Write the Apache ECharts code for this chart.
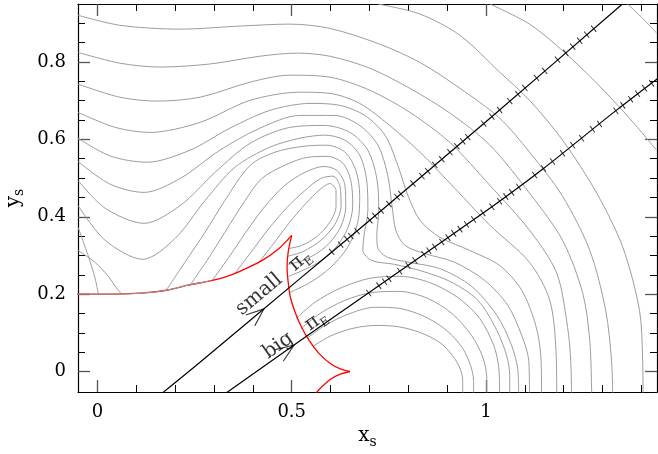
<!DOCTYPE html>
<html>
<head>
<meta charset="utf-8">
<script src="https://cdn.jsdelivr.net/npm/echarts@6/dist/echarts.min.js"></script>
<style>
html, body { margin: 0; padding: 0; background: #fff; }
#chart { width: 658px; height: 454px; }
</style>
</head>
<body>
<div id="chart"></div>
<script>
// axis ticks
let xMajor = [0, 0.5, 1];
let xMinor = [0.1, 0.2, 0.3, 0.4, 0.6, 0.7, 0.8, 0.9, 1.1, 1.2, 1.3, 1.4];
let yMajor = [0, 0.2, 0.4, 0.6, 0.8];
let yMinor = [0.05, 0.1, 0.15, 0.25, 0.3, 0.35, 0.45, 0.5, 0.55, 0.65, 0.7, 0.75, 0.85, 0.9];

// contour lines (gray)
let t1 = [[1.364,0.950],[1.403,0.913],[1.439,0.875]];
let t2 = [[1.010,0.950],[1.112,0.898],[1.202,0.825],[1.285,0.745],[1.369,0.655],[1.439,0.572]];
let t3 = [[0.722,0.950],[0.830,0.924],[0.933,0.869],[1.035,0.774],[1.112,0.701],[1.197,0.598],[1.285,0.461],[1.352,0.321],[1.395,0.158],[1.403,0.030],[1.404,-0.062]];
let l1 = [[-0.050,0.921],[0.058,0.895],[0.213,0.885],[0.367,0.893],[0.495,0.898],[0.598,0.887],[0.727,0.846],[0.830,0.799],[0.933,0.732],[1.035,0.655],[1.112,0.567],[1.197,0.453],[1.267,0.313],[1.308,0.158],[1.323,0.028],[1.326,-0.062]];
let l2 = [[-0.050,0.825],[0.058,0.797],[0.161,0.787],[0.290,0.795],[0.418,0.815],[0.513,0.823],[0.598,0.815],[0.701,0.784],[0.804,0.732],[0.907,0.668],[1.010,0.585],[1.112,0.461],[1.197,0.339],[1.249,0.202],[1.267,0.080],[1.272,-0.062]];
let l3 = [[-0.050,0.743],[0.058,0.709],[0.153,0.699],[0.264,0.709],[0.393,0.748],[0.495,0.766],[0.598,0.761],[0.701,0.727],[0.804,0.670],[0.907,0.592],[1.010,0.481],[1.112,0.365],[1.182,0.254],[1.210,0.114],[1.218,0.028],[1.220,-0.062]];
let l4 = [[-0.050,0.670],[0.046,0.631],[0.135,0.618],[0.264,0.644],[0.393,0.701],[0.521,0.722],[0.598,0.719],[0.675,0.693],[0.752,0.636],[0.830,0.567],[0.920,0.473],[1.010,0.378],[1.112,0.282],[1.164,0.184],[1.180,0.054],[1.182,-0.062]];
let l5 = [[-0.050,0.603],[0.033,0.557],[0.128,0.541],[0.238,0.572],[0.341,0.629],[0.444,0.675],[0.547,0.693],[0.624,0.688],[0.688,0.662],[0.740,0.611],[0.773,0.533],[0.799,0.455],[0.830,0.391],[0.881,0.347],[0.958,0.313],[1.035,0.274],[1.092,0.210],[1.128,0.119],[1.141,0.041],[1.143,-0.062]];
let l6 = [[-0.050,0.543],[0.033,0.484],[0.120,0.463],[0.213,0.499],[0.315,0.572],[0.418,0.629],[0.521,0.662],[0.611,0.662],[0.675,0.636],[0.722,0.585],[0.747,0.507],[0.758,0.429],[0.768,0.365],[0.791,0.326],[0.842,0.305],[0.920,0.282],[0.997,0.235],[1.056,0.171],[1.092,0.093],[1.110,0.028],[1.112,-0.062]];
let l7 = [[-0.050,0.494],[0.020,0.422],[0.120,0.383],[0.213,0.429],[0.303,0.515],[0.393,0.590],[0.495,0.631],[0.585,0.636],[0.650,0.618],[0.696,0.572],[0.719,0.499],[0.724,0.417],[0.719,0.352],[0.722,0.318],[0.747,0.295],[0.804,0.282],[0.881,0.266],[0.963,0.220],[1.028,0.145],[1.066,0.067],[1.082,0.003],[1.084,-0.062]];
let l8 = [[-0.050,0.429],[0.020,0.339],[0.117,0.290],[0.200,0.344],[0.277,0.442],[0.354,0.528],[0.444,0.580],[0.521,0.603],[0.585,0.611],[0.637,0.598],[0.675,0.559],[0.693,0.494],[0.696,0.417],[0.686,0.352],[0.683,0.313],[0.706,0.287],[0.765,0.277],[0.830,0.261],[0.907,0.233],[0.979,0.184],[1.028,0.106],[1.053,0.041],[1.061,-0.010],[1.061,-0.062]];
let l9 = [[-0.050,0.373],[-0.024,0.300],[-0.006,0.241],[0.002,0.202]];
let l10 = [[-0.050,0.313],[-0.006,0.282],[0.028,0.246],[0.048,0.217],[0.061,0.202]];
let loop1 = [[0.177,0.210],[0.225,0.282],[0.277,0.360],[0.328,0.442],[0.393,0.533],[0.457,0.567],[0.529,0.582],[0.590,0.585],[0.637,0.567],[0.665,0.520],[0.675,0.455],[0.670,0.386],[0.644,0.321],[0.598,0.267],[0.547,0.230],[0.495,0.204]];
let loop2 = [[0.238,0.223],[0.282,0.287],[0.328,0.360],[0.380,0.442],[0.423,0.499],[0.482,0.533],[0.542,0.554],[0.593,0.556],[0.632,0.538],[0.652,0.494],[0.657,0.429],[0.644,0.370],[0.611,0.318],[0.560,0.277],[0.492,0.246]];
let loop3 = [[0.295,0.235],[0.336,0.292],[0.382,0.360],[0.431,0.427],[0.482,0.481],[0.534,0.515],[0.583,0.530],[0.616,0.520],[0.637,0.481],[0.639,0.424],[0.624,0.370],[0.588,0.323],[0.537,0.290],[0.490,0.277]];
let loop4 = [[0.354,0.254],[0.395,0.308],[0.439,0.367],[0.488,0.424],[0.534,0.468],[0.575,0.499],[0.606,0.505],[0.624,0.479],[0.627,0.429],[0.611,0.380],[0.575,0.339],[0.529,0.310],[0.490,0.298]];
let loop5 = [[0.413,0.279],[0.452,0.329],[0.495,0.386],[0.537,0.435],[0.573,0.471],[0.598,0.486],[0.614,0.468],[0.614,0.427],[0.598,0.386],[0.565,0.349],[0.526,0.326],[0.492,0.318]];
let lobe1 = [[0.511,0.137],[0.560,0.179],[0.624,0.215],[0.701,0.241],[0.778,0.246],[0.855,0.230],[0.928,0.191],[0.984,0.137],[1.020,0.067],[1.033,0.008],[1.035,-0.062]];
let lobe2 = [[0.524,0.111],[0.573,0.150],[0.637,0.184],[0.706,0.204],[0.778,0.207],[0.850,0.189],[0.912,0.150],[0.963,0.093],[0.992,0.036],[1.002,-0.018],[1.002,-0.062]];
let lobe3 = [[0.539,0.085],[0.585,0.119],[0.650,0.150],[0.714,0.166],[0.778,0.163],[0.842,0.142],[0.899,0.106],[0.940,0.060],[0.960,0.016],[0.968,-0.023],[0.968,-0.062]];
let lobe4 = [[0.555,0.065],[0.598,0.091],[0.655,0.111],[0.714,0.119],[0.773,0.116],[0.830,0.101],[0.881,0.075],[0.914,0.041],[0.933,0.008],[0.940,-0.023],[0.940,-0.062]];

// caustic (red)
let caustLeft = [[-0.060,0.200],[0.050,0.200],[0.120,0.203],[0.178,0.210],[0.233,0.223],[0.293,0.235],[0.328,0.244],[0.362,0.257],[0.422,0.286],[0.465,0.316],[0.500,0.352]];
let caustRight = [[0.500,0.352],[0.491,0.310],[0.488,0.270],[0.491,0.230],[0.497,0.190],[0.510,0.150],[0.525,0.115],[0.545,0.080],[0.570,0.047],[0.600,0.020],[0.625,0.007],[0.650,0.000]];
let caustLow = [[0.650,0.000],[0.625,-0.007],[0.600,-0.020],[0.570,-0.047],[0.560,-0.060]];
let caustEdge = [[-0.060,0.200],[0.050,0.200],[0.120,0.203],[0.178,0.210],[0.233,0.223],[0.293,0.235]];

// source trajectories
let smallPath = [[0.169,-0.054],[0.264,0.024],[0.521,0.240],[0.675,0.369],[1.014,0.658],[1.351,0.950]];
let bigPath = [[0.333,-0.054],[0.590,0.128],[0.932,0.367],[1.035,0.440],[1.147,0.524],[1.335,0.675],[1.441,0.757]];
let smallTicks = [[0.603,0.309],[0.626,0.328],[0.642,0.342],[0.652,0.350],[0.668,0.363],[0.701,0.391],[0.714,0.402],[0.730,0.416],[0.750,0.433],[0.771,0.451],[0.781,0.459],[0.812,0.486],[0.835,0.505],[0.850,0.518],[0.868,0.534],[0.886,0.549],[0.907,0.567],[0.925,0.582],[0.940,0.595],[0.953,0.606],[0.994,0.641],[1.015,0.659],[1.035,0.676],[1.061,0.699],[1.082,0.717],[1.100,0.733],[1.130,0.759],[1.151,0.777],[1.184,0.806],[1.205,0.824],[1.223,0.840],[1.241,0.855],[1.259,0.871],[1.277,0.886]];
let bigTicks = [[0.698,0.203],[0.724,0.222],[0.739,0.232],[0.750,0.240],[0.778,0.259],[0.799,0.274],[0.817,0.287],[0.840,0.303],[0.853,0.312],[0.868,0.322],[0.886,0.335],[0.902,0.346],[0.917,0.357],[0.933,0.368],[0.950,0.380],[0.968,0.393],[0.992,0.410],[1.015,0.426],[1.035,0.440],[1.051,0.452],[1.066,0.463],[1.084,0.477],[1.125,0.508],[1.148,0.525],[1.171,0.543],[1.197,0.564],[1.223,0.585],[1.246,0.603],[1.274,0.626],[1.292,0.640],[1.334,0.674],[1.352,0.688],[1.372,0.704],[1.390,0.718],[1.408,0.732],[1.426,0.745]];
let smallArrow = [0.411, 0.147];
let bigArrow = [0.487, 0.055];

// annotation anchors
let smallLabel = [0.416, 0.199];
let smallPiLabel = [0.521, 0.287];
let bigLabel = [0.465, 0.067];
let bigPiLabel = [0.562, 0.132];

const FONT = 'DejaVu Serif';
const GRAY = '#9c9c9c';

var chart = echarts.init(document.getElementById('chart'));

function contour(d) {
    return { type: 'line', data: d, smooth: 0.3, symbol: 'none', silent: true, z: 2,
        lineStyle: { color: GRAY, width: 1 } };
}
function curve(d, color, w, z) {
    return { type: 'line', data: d, smooth: 0.3, symbol: 'none', silent: true, z: z,
        lineStyle: { color: color, width: w } };
}
function textMark(pos, text, rot) {
    return { type: 'scatter', data: [pos], symbolSize: 0, silent: true, z: 10,
        label: { show: true, position: 'inside', formatter: text, rotate: rot,
            fontFamily: FONT, fontSize: 20, color: '#000',
            rich: {
                p: { fontFamily: FONT, fontSize: 20, lineHeight: 26, color: '#000' },
                e: { fontFamily: FONT, fontSize: 12, lineHeight: 12, verticalAlign: 'bottom', color: '#000' }
            } } };
}

// two identical grids: the first carries major ticks, the second minor ones
let box = { left: 78, right: 1, top: 4, bottom: 62, outerBoundsMode: 'none' };
let xBase = { type: 'value', min: -0.05, max: 1.44, splitLine: { show: false } };
let yBase = { type: 'value', min: -0.053, max: 0.95, splitLine: { show: false } };
let axLine = { show: true, onZero: false, lineStyle: { color: '#000', width: 1.2 } };
let noLine = { show: false, onZero: false };
let majTick = (vals) => ({ show: true, inside: true, length: 12, customValues: vals, lineStyle: { color: '#555', width: 1.3 } });
let minTick = (vals) => ({ show: true, inside: true, length: 7, customValues: vals, lineStyle: { color: '#000', width: 1 } });
let subRich = {
    i: { fontFamily: FONT, fontSize: 20, lineHeight: 26, color: '#000' },
    s: { fontFamily: FONT, fontSize: 14, lineHeight: 14, verticalAlign: 'bottom', color: '#000' }
};

var option = {
    animation: false,
    grid: [box, box],
    xAxis: [
        Object.assign({}, xBase, { gridIndex: 0, position: 'bottom', axisLine: axLine, axisTick: majTick(xMajor),
            axisLabel: { customValues: xMajor, margin: 11, fontFamily: FONT, fontSize: 18, color: '#000' },
            name: '{i|x}{s|s}', nameLocation: 'middle', nameGap: 30, nameTextStyle: { rich: subRich } }),
        Object.assign({}, xBase, { gridIndex: 0, position: 'top', axisLine: axLine, axisTick: majTick(xMajor), axisLabel: { show: false } }),
        Object.assign({}, xBase, { gridIndex: 1, position: 'bottom', axisLine: noLine, axisTick: minTick(xMinor), axisLabel: { show: false } }),
        Object.assign({}, xBase, { gridIndex: 1, position: 'top', axisLine: noLine, axisTick: minTick(xMinor), axisLabel: { show: false } })
    ],
    yAxis: [
        Object.assign({}, yBase, { gridIndex: 0, position: 'left', axisLine: axLine, axisTick: majTick(yMajor),
            axisLabel: { customValues: yMajor, margin: 12, fontFamily: FONT, fontSize: 18, color: '#000' },
            name: '{i|y}{s|s}', nameLocation: 'middle', nameGap: 50, nameTextStyle: { rich: subRich } }),
        Object.assign({}, yBase, { gridIndex: 0, position: 'right', axisLine: axLine, axisTick: majTick(yMajor), axisLabel: { show: false } }),
        Object.assign({}, yBase, { gridIndex: 1, position: 'left', axisLine: noLine, axisTick: minTick(yMinor), axisLabel: { show: false } }),
        Object.assign({}, yBase, { gridIndex: 1, position: 'right', axisLine: noLine, axisTick: minTick(yMinor), axisLabel: { show: false } })
    ],
    series: [
        contour(t1), contour(t2), contour(t3),
        contour(l1), contour(l2), contour(l3), contour(l4), contour(l5), contour(l6), contour(l7), contour(l8),
        contour(l9), contour(l10),
        contour(loop1), contour(loop2), contour(loop3), contour(loop4), contour(loop5),
        contour(lobe1), contour(lobe2), contour(lobe3), contour(lobe4),
        curve(caustLeft, '#ff0000', 1.3, 3),
        curve(caustRight, '#ff0000', 1.3, 3),
        curve(caustLow, '#ff0000', 1.3, 3),
        curve(caustEdge, GRAY, 1, 4),
        curve(smallPath, '#000', 1.2, 5),
        curve(bigPath, '#000', 1.2, 5),
        { type: 'scatter', data: smallTicks, symbol: 'rect', symbolSize: [1, 8], symbolRotate: 40, silent: true, z: 6, itemStyle: { color: '#000' } },
        { type: 'scatter', data: bigTicks, symbol: 'rect', symbolSize: [1, 8], symbolRotate: 36, silent: true, z: 6, itemStyle: { color: '#000' } },
        { type: 'scatter', data: [smallArrow], symbol: 'path://M0,0L18,7L0,14', symbolSize: [18, 14], symbolRotate: 40, silent: true, z: 6,
            itemStyle: { color: 'rgba(0,0,0,0)', borderColor: '#000', borderWidth: 1.2 } },
        { type: 'scatter', data: [bigArrow], symbol: 'path://M0,0L18,7L0,14', symbolSize: [18, 14], symbolRotate: 35, silent: true, z: 6,
            itemStyle: { color: 'rgba(0,0,0,0)', borderColor: '#000', borderWidth: 1.2 } },
        textMark(smallLabel, 'small', 40),
        textMark(smallPiLabel, '{p|π}{e|E}', 40),
        textMark(bigLabel, 'big', 35),
        textMark(bigPiLabel, '{p|π}{e|E}', 35)
    ]
};

chart.setOption(option);
</script>
</body>
</html>
